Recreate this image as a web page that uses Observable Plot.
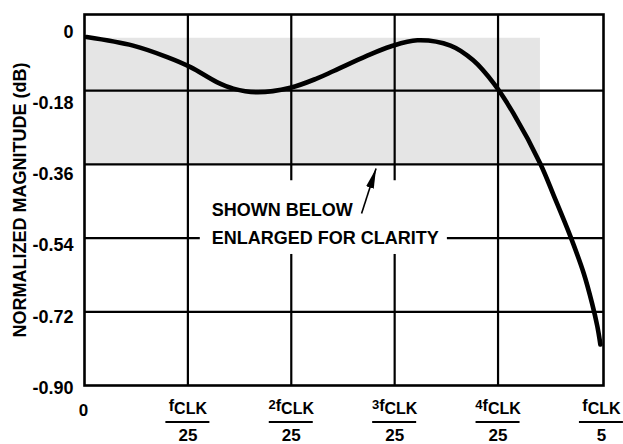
<!DOCTYPE html>
<html><head><meta charset="utf-8">
<script src="https://cdn.jsdelivr.net/npm/d3@7"></script>
<script src="https://cdn.jsdelivr.net/npm/@observablehq/plot@0.6"></script>
<style>body{margin:0;background:#fff} svg{display:block}</style>
</head><body><div id="chart"></div>
<script>
// Frequency in units of fCLK/25, magnitude in dB
const freq = [0.02,0.47,0.80,1.03,1.28,1.44,1.67,1.99,2.25,2.41,2.73,2.96,3.22,3.54,3.76,3.96,4.15,4.41,4.54,4.70,4.83,4.91,4.96,4.99];
const magnitude = [-0.049,-0.070,-0.098,-0.123,-0.159,-0.175,-0.184,-0.173,-0.150,-0.132,-0.095,-0.072,-0.057,-0.070,-0.106,-0.163,-0.236,-0.359,-0.437,-0.536,-0.627,-0.700,-0.755,-0.800];

const yTicks = [0,-0.18,-0.36,-0.54,-0.72,-0.90];
const yTickLabels = ["0","-0.18","-0.36","-0.54","-0.72","-0.90"];
const xTicks = [1,2,3,4,5];
const xTickNumPrefix = ["","2","3","4",""];
const xTickDenom = ["25","25","25","25","5"];

const hGridFull = [-0.18,-0.36,-0.72];
const hGridSegments = [{y:-0.54,x1:0,x2:1.12},{y:-0.54,x1:3.51,x2:5.02}];
const vGridFull = [1,4];
const vGridSegments = [{x:2,y1:0.006,y2:-0.40},{x:2,y1:-0.58,y2:-0.9},{x:3,y1:0.006,y2:-0.40},{x:3,y1:-0.58,y2:-0.9}];

const shaded = [{x1:0,x2:4.41,y1:-0.36,y2:-0.052}];
const notes = [{x:1.23,y:-0.471,text:"SHOWN BELOW"},{x:1.23,y:-0.54,text:"ENLARGED FOR CLARITY"}];
const pointer = [{x1:2.68,y1:-0.480,x2:2.82,y2:-0.370}];
const yTitle = "NORMALIZED MAGNITUDE (dB)";

const curve = freq.map((f,i)=>({f, m:magnitude[i]}));
const FONT = "'Liberation Sans', Arial, Helvetica, sans-serif";

const yLabelMarks = yTicks.map((t,i)=>Plot.text([t],{y:d=>d, text:()=>yTickLabels[i], frameAnchor:"left", dx:-11, dy:15-2.5*i, textAnchor:"end", lineAnchor:"middle", fontSize:18, fontWeight:"bold", fill:"black"}));

const plot = Plot.plot({
  width:623, height:444,
  marginTop:14, marginLeft:84, marginRight:20, marginBottom:59,
  style:{fontFamily:FONT, background:"white", overflow:"visible"},
  x:{domain:[0,5.02], axis:null},
  y:{domain:[-0.9,0.006], axis:null},
  marks:[
    Plot.rect(shaded,{x1:"x1",x2:"x2",y1:"y1",y2:"y2",fill:"#e5e5e5"}),
    Plot.ruleY(hGridFull,{stroke:"black",strokeWidth:2.2}),
    Plot.ruleY(hGridSegments,{y:"y",x1:"x1",x2:"x2",stroke:"black",strokeWidth:2.2}),
    Plot.ruleX(vGridFull,{stroke:"black",strokeWidth:2.2}),
    Plot.ruleX(vGridSegments,{x:"x",y1:"y1",y2:"y2",stroke:"black",strokeWidth:2.2}),
    Plot.frame({stroke:"black",strokeWidth:2.6}),
    Plot.line(curve,{x:"f",y:"m",curve:"catmull-rom",stroke:"black",strokeWidth:4.6}),
    Plot.text(notes,{x:"x",y:"y",text:"text",textAnchor:"start",lineAnchor:"middle",fontSize:18,fontWeight:"bold",fill:"black"}),
    Plot.link(pointer,{x1:"x1",y1:"y1",x2:"x2",y2:"y2",stroke:"black",strokeWidth:1.6,markerEnd:"arrow"}),
    ...yLabelMarks,
    Plot.text([yTitle],{text:d=>d,frameAnchor:"left",dx:-64,rotate:-90,textAnchor:"middle",lineAnchor:"middle",fontSize:18,fontWeight:"bold",fill:"black"}),
    Plot.text([0],{x:d=>d,text:()=>"0",frameAnchor:"bottom",dx:-1,dy:30,lineAnchor:"bottom",fontSize:17,fontWeight:"bold",fill:"black"}),
    Plot.text(xTicks,{x:d=>d,text:(d,i)=>xTickNumPrefix[i]+"fCLK",frameAnchor:"bottom",dy:28,lineAnchor:"bottom",fontSize:16,fontWeight:"bold",fill:"black"}),
    Plot.text(xTicks,{x:d=>d,text:(d,i)=>xTickDenom[i],frameAnchor:"bottom",dy:55,lineAnchor:"bottom",fontSize:17,fontWeight:"bold",fill:"black"})
  ]
});

// Filled arrowhead for the annotation pointer (replaces Plot's open arrow marker)
const svg = d3.select(plot);
const defs = svg.insert("defs", ":first-child");
defs.append("marker").attr("id","fhead").attr("markerUnits","userSpaceOnUse")
  .attr("markerWidth",22).attr("markerHeight",12).attr("refX",20).attr("refY",0)
  .attr("viewBox","0 -6 22 12").attr("orient","auto")
  .append("path").attr("d","M0,-4L20,0L0,4Z").attr("fill","black").attr("stroke","none");
svg.selectAll("[marker-end]").attr("marker-end","url(#fhead)");

// Rich-text numerators: small prefix digit, "f", subscript "CLK"
svg.selectAll("text").each(function(){
  const s = this.textContent;
  if (!s.endsWith("CLK") || this.querySelector("tspan")) return;
  const pre = s.slice(0,-4);
  const sel = d3.select(this);
  sel.text(null);
  if (pre) sel.append("tspan").attr("font-size",13).attr("dy",-5).text(pre);
  sel.append("tspan").attr("font-size",16).attr("dy",pre? 2 : -3).text("f");
  sel.append("tspan").attr("font-size",16).attr("dy",3).text("CLK");
});

// Fraction bars under each numerator, positioned with the plot's x scale
const sx = plot.scale("x");
const X = sx.apply ? v=>sx.apply(v) : d3.scaleLinear(sx.domain, sx.range);
const barY = 444 - 59 + 37;
svg.append("g").attr("stroke","black").attr("stroke-width",2)
  .selectAll("line").data(xTicks).join("line")
  .attr("x1",d=>X(d)-22).attr("x2",d=>X(d)+22).attr("y1",barY).attr("y2",barY);

document.getElementById("chart").appendChild(plot);
</script></body></html>
